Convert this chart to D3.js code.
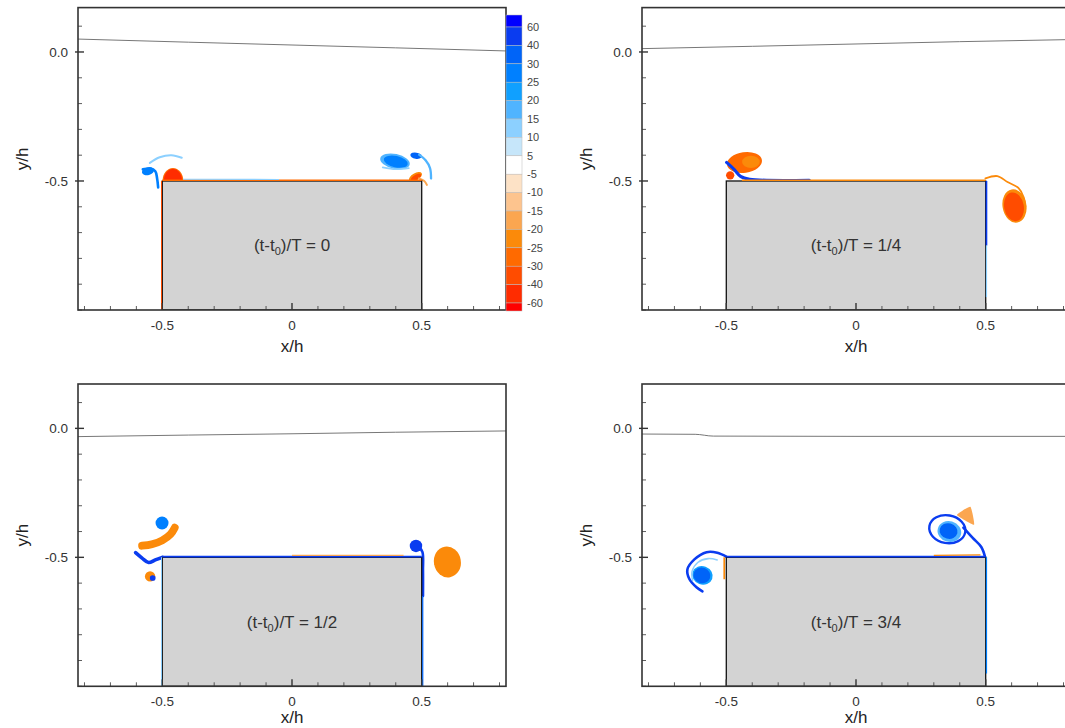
<!DOCTYPE html>
<html><head><meta charset="utf-8">
<script src="https://cdn.jsdelivr.net/npm/d3@7"></script>
<style>body{margin:0;background:#fff}svg{display:block;font-family:"Liberation Sans",Arial,sans-serif}</style>
</head><body><svg id="c" width="1065" height="728"></svg>
<script>
// ---------- data ----------
const levels = [60, 40, 30, 25, 20, 15, 10, 5, -5, -10, -15, -20, -25, -30, -40, -60];
const levelColors = ["#0000ff","#0a3cf0","#0064f8","#0080ff","#10a0ff","#50b4ff","#8cd0ff","#c6e6fa","#ffffff",
  "#fde2c6","#fdc48e","#fba650","#fb8a0a","#ff6a00","#ff4c00","#ff2c00","#ff0000"];
const xTickValues = [-0.5, 0, 0.5];
const xTickLabels = ["-0.5", "0", "0.5"];
const yTickValues = [0, -0.5];
const yTickLabels = ["0.0", "-0.5"];
const phaseLabels = ["0", "1/4", "1/2", "3/4"];

// free surface elevation (x/h, y/h)
const surface0 = [[-0.825,0.05],[-0.4,0.038],[0,0.027],[0.4,0.016],[0.825,0.004]];
const surface1 = [[-0.825,0.013],[-0.4,0.022],[0,0.031],[0.4,0.04],[0.825,0.048]];
const surface2 = [[-0.825,-0.032],[-0.4,-0.026],[0,-0.021],[0.4,-0.015],[0.825,-0.01]];
const surface3 = [[-0.825,-0.022],[-0.62,-0.023],[-0.55,-0.03],[0,-0.031],[0.825,-0.031]];

// vortex patches: centre, semi-axes (x/h), tilt (deg), vorticity level
const blobs0 = [
  {cx:-0.459, cy:-0.5, rx:0.04, ry:0.05, rot:0, v:-28},
  {cx:-0.459, cy:-0.5, rx:0.036, ry:0.046, rot:0, v:-45},
  {cx:-0.555, cy:-0.462, rx:0.024, ry:0.015, rot:-15, v:28},
  {cx:0.397, cy:-0.424, rx:0.058, ry:0.029, rot:12, v:18},
  {cx:0.4, cy:-0.425, rx:0.047, ry:0.022, rot:12, v:27},
  {cx:0.478, cy:-0.402, rx:0.022, ry:0.012, rot:10, v:35},
  {cx:0.476, cy:-0.484, rx:0.028, ry:0.014, rot:-30, v:-22},
  {cx:0.478, cy:-0.486, rx:0.022, ry:0.01, rot:-30, v:-38}
];
const blobs1 = [
  {cx:-0.43, cy:-0.428, rx:0.068, ry:0.04, rot:-8, v:-28},
  {cx:-0.405, cy:-0.426, rx:0.034, ry:0.024, rot:0, v:-22},
  {cx:-0.485, cy:-0.478, rx:0.016, ry:0.016, rot:0, v:-35},
  {cx:0.611, cy:-0.597, rx:0.046, ry:0.065, rot:-10, v:-22},
  {cx:0.609, cy:-0.6, rx:0.038, ry:0.056, rot:-10, v:-35}
];
const blobs2 = [
  {cx:-0.501, cy:-0.367, rx:0.025, ry:0.025, rot:0, v:28},
  {cx:-0.547, cy:-0.574, rx:0.02, ry:0.02, rot:0, v:-22},
  {cx:-0.537, cy:-0.58, rx:0.011, ry:0.011, rot:0, v:45},
  {cx:0.478, cy:-0.456, rx:0.024, ry:0.024, rot:0, v:40},
  {cx:0.599, cy:-0.518, rx:0.052, ry:0.06, rot:-10, v:-22}
];
const blobs3 = [
  {cx:-0.592, cy:-0.57, rx:0.04, ry:0.036, rot:20, v:22},
  {cx:-0.594, cy:-0.57, rx:0.033, ry:0.03, rot:20, v:32},
  {cx:0.352, cy:-0.391, rx:0.07, ry:0.054, rot:10, v:45, ring:1},
  {cx:0.36, cy:-0.4, rx:0.046, ry:0.04, rot:15, v:18},
  {cx:0.357, cy:-0.398, rx:0.035, ry:0.03, rot:15, v:30}
];
const polys3 = [
  {pts:[[0.389,-0.336],[0.441,-0.304],[0.455,-0.374]], v:-18}
];

// filaments: polyline (x/h, y/h), width (x/h), vorticity level
const strokes0 = [
  {pts:[[-0.575,-0.455],[-0.545,-0.452],[-0.527,-0.462],[-0.52,-0.49],[-0.516,-0.525]], w:0.01, v:25},
  {pts:[[-0.548,-0.43],[-0.51,-0.408],[-0.465,-0.4],[-0.425,-0.41]], w:0.008, v:12},
  {pts:[[0.49,-0.398],[0.515,-0.42],[0.532,-0.45],[0.536,-0.49]], w:0.009, v:17},
  {pts:[[0.35,-0.447],[0.4,-0.454],[0.45,-0.45]], w:0.007, v:12},
  {pts:[[0.49,-0.49],[0.51,-0.5],[0.52,-0.515]], w:0.008, v:-18}
];
const strokes1 = [
  {pts:[[-0.499,-0.428],[-0.47,-0.455],[-0.445,-0.482],[-0.41,-0.493],[-0.18,-0.497]], w:0.012, v:45},
  {pts:[[0.499,-0.49],[0.545,-0.481],[0.584,-0.504],[0.626,-0.527],[0.646,-0.562],[0.653,-0.6]], w:0.007, v:-22}
];
const strokes2 = [
  {pts:[[-0.578,-0.455],[-0.54,-0.449],[-0.5,-0.434],[-0.468,-0.41],[-0.452,-0.385]], w:0.03, v:-22},
  {pts:[[-0.603,-0.482],[-0.578,-0.503],[-0.553,-0.52],[-0.527,-0.51],[-0.5,-0.5]], w:0.014, v:45},
  {pts:[[0.49,-0.46],[0.503,-0.48],[0.505,-0.55],[0.505,-0.65]], w:0.01, v:45}
];
const strokes3 = [
  {pts:[[-0.5,-0.497],[-0.535,-0.482],[-0.576,-0.48],[-0.623,-0.508],[-0.65,-0.547],[-0.642,-0.585],[-0.615,-0.616],[-0.592,-0.632]], w:0.01, v:40},
  {pts:[[-0.535,-0.51],[-0.57,-0.505],[-0.61,-0.52],[-0.632,-0.555],[-0.63,-0.59]], w:0.006, v:12},
  {pts:[[0.414,-0.385],[0.45,-0.425],[0.483,-0.46],[0.498,-0.5]], w:0.01, v:45}
];

// boundary layers on the block walls
const walls0 = [
  {pts:[[-0.5,-0.497],[0.5,-0.497]], w:0.007, v:-30},
  {pts:[[-0.42,-0.493],[-0.05,-0.494]], w:0.005, v:12},
  {pts:[[-0.503,-0.5],[-0.503,-1]], w:0.005, v:-35}
];
const walls1 = [
  {pts:[[-0.44,-0.497],[0.5,-0.497]], w:0.007, v:-25},
  {pts:[[0.503,-0.5],[0.503,-0.75]], w:0.008, v:45},
  {pts:[[0.503,-0.75],[0.503,-0.95]], w:0.006, v:12}
];
const walls2 = [
  {pts:[[-0.5,-0.497],[0.5,-0.497]], w:0.008, v:45},
  {pts:[[0.0,-0.492],[0.43,-0.492]], w:0.006, v:-18},
  {pts:[[-0.503,-0.5],[-0.503,-1]], w:0.005, v:12},
  {pts:[[0.504,-0.65],[0.504,-1]], w:0.006, v:35}
];
const walls3 = [
  {pts:[[-0.5,-0.497],[0.5,-0.497]], w:0.008, v:45},
  {pts:[[0.3,-0.492],[0.48,-0.49]], w:0.006, v:-22},
  {pts:[[-0.508,-0.5],[-0.508,-0.585]], w:0.008, v:-25},
  {pts:[[0.503,-0.5],[0.503,-0.95]], w:0.006, v:25}
];

const block = {x0:-0.5, x1:0.5, y0:-1, y1:-0.5};
const xDomain = [-0.825, 0.825];
const yDomain = [-1, 0.172];

// ---------- drawing ----------
const svg = d3.select("#c");
const color = d3.scaleThreshold()
  .domain(levels.slice().reverse())
  .range(levelColors.slice().reverse());

const panelData = [
  {surf:surface0, blobs:blobs0, polys:[], strokes:strokes0, walls:walls0},
  {surf:surface1, blobs:blobs1, polys:[], strokes:strokes1, walls:walls1},
  {surf:surface2, blobs:blobs2, polys:[], strokes:strokes2, walls:walls2},
  {surf:surface3, blobs:blobs3, polys:polys3, strokes:strokes3, walls:walls3}
];
const frames = [
  {l:78, r:506, t:7.6, b:310, xl:352},
  {l:642, r:1070, t:7.6, b:310, xl:352},
  {l:78, r:506, t:384, b:686.3, xl:723},
  {l:642, r:1070, t:384, b:686.3, xl:723}
];

panelData.forEach((pd, i) => {
  const f = frames[i];
  const x = d3.scaleLinear().domain(xDomain).range([f.l, f.r]);
  const y = d3.scaleLinear().domain(yDomain).range([f.b, f.t]);
  const kx = x(1) - x(0), ky = y(0) - y(1);
  const g = svg.append("g");
  const cid = "clip" + i;
  g.append("clipPath").attr("id", cid).append("rect")
    .attr("x", f.l).attr("y", f.t).attr("width", f.r - f.l).attr("height", f.b - f.t);
  const inner = g.append("g").attr("clip-path", `url(#${cid})`);

  // free surface
  inner.append("path").datum(pd.surf)
    .attr("d", d3.line().x(d => x(d[0])).y(d => y(d[1])).curve(d3.curveMonotoneX))
    .attr("fill", "none").attr("stroke", "#777").attr("stroke-width", 1);

  const lineGen = d3.line().x(d => x(d[0])).y(d => y(d[1])).curve(d3.curveCatmullRom.alpha(0.5));

  // vortex patches
  inner.selectAll("ellipse.b").data(pd.blobs).join("ellipse")
    .attr("cx", d => x(d.cx)).attr("cy", d => y(d.cy))
    .attr("rx", d => d.rx * kx).attr("ry", d => d.ry * ky)
    .attr("transform", d => `rotate(${d.rot},${x(d.cx)},${y(d.cy)})`)
    .attr("fill", d => d.ring ? "none" : color(d.v))
    .attr("stroke", d => d.ring ? color(d.v) : "none")
    .attr("stroke-width", d => d.ring ? 2.4 : 0);
  inner.selectAll("path.p").data(pd.polys).join("path")
    .attr("d", d => d3.line().x(p => x(p[0])).y(p => y(p[1])).curve(d3.curveCardinalClosed.tension(0.6))(d.pts))
    .attr("fill", d => color(d.v));
  inner.selectAll("path.s").data(pd.strokes).join("path")
    .attr("d", d => lineGen(d.pts))
    .attr("fill", "none").attr("stroke", d => color(d.v))
    .attr("stroke-width", d => d.w * kx)
    .attr("stroke-linecap", "round").attr("stroke-linejoin", "round");

  // block
  inner.append("rect")
    .attr("x", x(block.x0)).attr("y", y(block.y1))
    .attr("width", x(block.x1) - x(block.x0)).attr("height", y(block.y0) - y(block.y1))
    .attr("fill", "#d3d3d3").attr("stroke", "#111").attr("stroke-width", 1.3);

  // wall layers
  inner.selectAll("path.w").data(pd.walls).join("path")
    .attr("d", d => d3.line().x(p => x(p[0])).y(p => y(p[1]))(d.pts))
    .attr("fill", "none").attr("stroke", d => color(d.v))
    .attr("stroke-width", d => Math.max(1, d.w * kx * 0.8));

  // phase label
  const lt = inner.append("text")
    .attr("x", x(0)).attr("y", y(-0.75) + 6)
    .attr("text-anchor", "middle").attr("font-size", 17).attr("fill", "#333");
  lt.append("tspan").text("(t-t");
  lt.append("tspan").attr("font-size", 11).attr("dy", 4).text("0");
  lt.append("tspan").attr("dy", -4).text(")/T = " + phaseLabels[i]);

  // frame
  g.append("rect").attr("x", f.l).attr("y", f.t)
    .attr("width", f.r - f.l).attr("height", f.b - f.t)
    .attr("fill", "none").attr("stroke", "#333").attr("stroke-width", 1.6);

  // ticks
  const isMajor = (vals, d) => vals.some(t => Math.abs(t - d) < 1e-9);
  const minorX = d3.range(-8, 9).map(k => k / 10);
  const minorY = d3.range(-10, 2).map(k => k / 10);
  g.selectAll("line.mx").data(minorX).join("line")
    .attr("x1", d => x(d)).attr("x2", d => x(d))
    .attr("y1", f.b).attr("y2", d => f.b - (isMajor(xTickValues, d) ? 7 : 4))
    .attr("stroke", "#333").attr("stroke-width", d => isMajor(xTickValues, d) ? 1.4 : 0.8);
  g.selectAll("line.my").data(minorY).join("line")
    .attr("y1", d => y(d)).attr("y2", d => y(d))
    .attr("x1", d => isMajor(yTickValues, d) ? f.l - 3 : f.l)
    .attr("x2", d => f.l + (isMajor(yTickValues, d) ? 6 : 4))
    .attr("stroke", "#333").attr("stroke-width", d => isMajor(yTickValues, d) ? 1.4 : 0.8);

  g.selectAll("text.xt").data(xTickValues).join("text")
    .attr("x", d => x(d)).attr("y", f.b + 20)
    .attr("text-anchor", "middle").attr("font-size", 13.5).attr("fill", "#333")
    .text((d, k) => xTickLabels[k]);
  g.selectAll("text.yt").data(yTickValues).join("text")
    .attr("x", f.l - 10).attr("y", d => y(d)).attr("dy", "0.35em")
    .attr("text-anchor", "end").attr("font-size", 13.5).attr("fill", "#333")
    .text((d, k) => yTickLabels[k]);

  g.append("text").attr("x", x(0)).attr("y", f.xl)
    .attr("text-anchor", "middle").attr("font-size", 17).attr("fill", "#222").text("x/h");
  g.append("text")
    .attr("transform", `translate(${f.l - 50},${(f.t + f.b) / 2}) rotate(-90)`)
    .attr("text-anchor", "middle").attr("font-size", 17).attr("fill", "#222").text("y/h");
});

// ---------- colour bar ----------
const cb = svg.append("g");
const cbY = d3.scaleLinear().domain([0, levels.length - 1]).range([27, 303]);
const cbTop = 15, cbBot = 311, cbX = 506, cbW = 16;
const bandEdges = [cbTop].concat(levels.map((v, k) => cbY(k))).concat([cbBot]);
cb.selectAll("rect").data(levelColors).join("rect")
  .attr("x", cbX).attr("width", cbW)
  .attr("y", (d, k) => bandEdges[k]).attr("height", (d, k) => bandEdges[k + 1] - bandEdges[k])
  .attr("fill", d => d).attr("stroke", "#bbb").attr("stroke-width", 0.5);
cb.selectAll("text").data(levels).join("text")
  .attr("x", cbX + cbW + 5).attr("y", (d, k) => cbY(k)).attr("dy", "0.35em")
  .attr("font-size", 11).attr("fill", "#444").text(d => d);
</script>
</body></html>
